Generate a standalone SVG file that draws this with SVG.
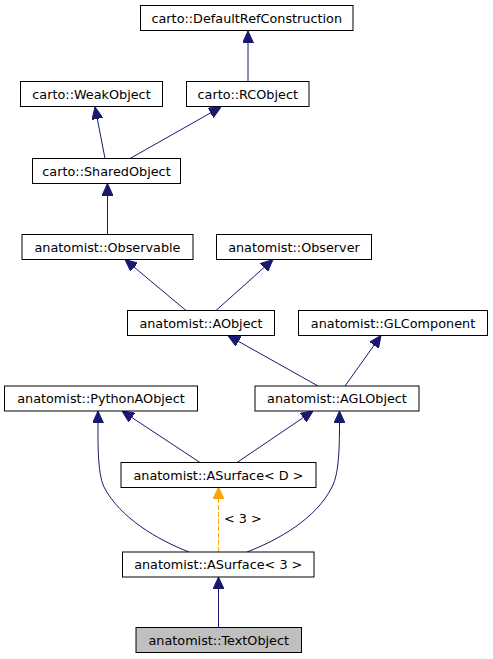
<svg xmlns="http://www.w3.org/2000/svg" width="493" height="659" viewBox="0 0 493 659">
<style>
.node rect{fill:#ffffff;stroke:#000000;stroke-width:1}
.node.hl rect{fill:#bfbfbf}
.node text{font-family:"DejaVu Sans",sans-serif;font-size:12.8px;fill:#000000;text-anchor:middle}
.edge{fill:none;stroke:#191970;stroke-width:1}
.tmpl{fill:none;stroke:#ffa500;stroke-width:1;stroke-dasharray:5,2}
.lbl{font-family:"DejaVu Sans",sans-serif;font-size:12.8px;fill:#000000}
</style>
<defs>
<marker id="ah" markerWidth="12" markerHeight="11" refX="12" refY="5.5" orient="auto" markerUnits="userSpaceOnUse">
<path d="M0,0 L12,5.5 L0,11 z" fill="#191970" stroke="#191970" stroke-width="1"/>
</marker>
<marker id="aho" markerWidth="12" markerHeight="11" refX="12" refY="5.5" orient="auto" markerUnits="userSpaceOnUse">
<path d="M0,0 L12,5.5 L0,11 z" fill="#ffa500" stroke="#ffa500" stroke-width="1"/>
</marker>
</defs>
<rect x="0" y="0" width="493" height="659" fill="#ffffff"/>
<g id="edges">
<path class="edge" marker-end="url(#ah)" d="M248,81.5 L248,31"/>
<path class="edge" marker-end="url(#ah)" d="M105,158.5 L95,107"/>
<path class="edge" marker-end="url(#ah)" d="M130,158.5 L221,107"/>
<path class="edge" marker-end="url(#ah)" d="M107.5,234.5 L107.5,183.5"/>
<path class="edge" marker-end="url(#ah)" d="M186,310.5 L125,259.5"/>
<path class="edge" marker-end="url(#ah)" d="M216,310.5 L273,259.5"/>
<path class="edge" marker-end="url(#ah)" d="M318,386 L228,335.5"/>
<path class="edge" marker-end="url(#ah)" d="M345,386 L381,335.5"/>
<path class="edge" marker-end="url(#ah)" d="M200,462.5 L122,411"/>
<path class="edge" marker-end="url(#ah)" d="M237,462.5 L313,411"/>
<path class="edge" marker-end="url(#ah)" d="M189,552 C158,540 120,518 104,487 C97,472 98,440 98,411"/>
<path class="edge" marker-end="url(#ah)" d="M247,552 C278,540 316,519 332,487 C340,472 339.5,440 339.5,411"/>
<path class="tmpl" marker-end="url(#aho)" d="M218.5,552 L218.5,487"/>
<text class="lbl" x="224" y="523">&lt; 3 &gt;</text>
<path class="edge" marker-end="url(#ah)" d="M218.5,627.5 L218.5,577"/>
</g>
<g id="n_defaultref" class="node"><rect x="140.5" y="5.5" width="212.5" height="25"/><text x="246.75" y="22.5">carto::DefaultRefConstruction</text></g>
<g id="n_weak" class="node"><rect x="20.5" y="81.5" width="142" height="25"/><text x="91.5" y="98.5">carto::WeakObject</text></g>
<g id="n_rc" class="node"><rect x="186.5" y="81.5" width="122.5" height="25"/><text x="247.75" y="98.5">carto::RCObject</text></g>
<g id="n_shared" class="node"><rect x="32.5" y="158.5" width="148" height="25"/><text x="106.5" y="175.5">carto::SharedObject</text></g>
<g id="n_observable" class="node"><rect x="22" y="234.5" width="171" height="25"/><text x="107.5" y="251.5">anatomist::Observable</text></g>
<g id="n_observer" class="node"><rect x="216.5" y="234.5" width="155" height="25"/><text x="294" y="251.5">anatomist::Observer</text></g>
<g id="n_aobject" class="node"><rect x="127.5" y="310.5" width="147" height="25"/><text x="201" y="327.5">anatomist::AObject</text></g>
<g id="n_glcomp" class="node"><rect x="298.5" y="310.5" width="189" height="25"/><text x="393" y="327.5">anatomist::GLComponent</text></g>
<g id="n_python" class="node"><rect x="4.5" y="386" width="193" height="25"/><text x="101" y="403">anatomist::PythonAObject</text></g>
<g id="n_agl" class="node"><rect x="255" y="386" width="164" height="25"/><text x="337" y="403">anatomist::AGLObject</text></g>
<g id="n_asurfd" class="node"><rect x="121" y="462.5" width="195" height="25"/><text x="218.5" y="479.5">anatomist::ASurface&lt; D &gt;</text></g>
<g id="n_asurf3" class="node"><rect x="122.5" y="552" width="191.5" height="25"/><text x="218.25" y="569">anatomist::ASurface&lt; 3 &gt;</text></g>
<g id="n_text" class="node hl"><rect x="136" y="627.5" width="165.5" height="25"/><text x="218.75" y="644.5">anatomist::TextObject</text></g>
</svg>
